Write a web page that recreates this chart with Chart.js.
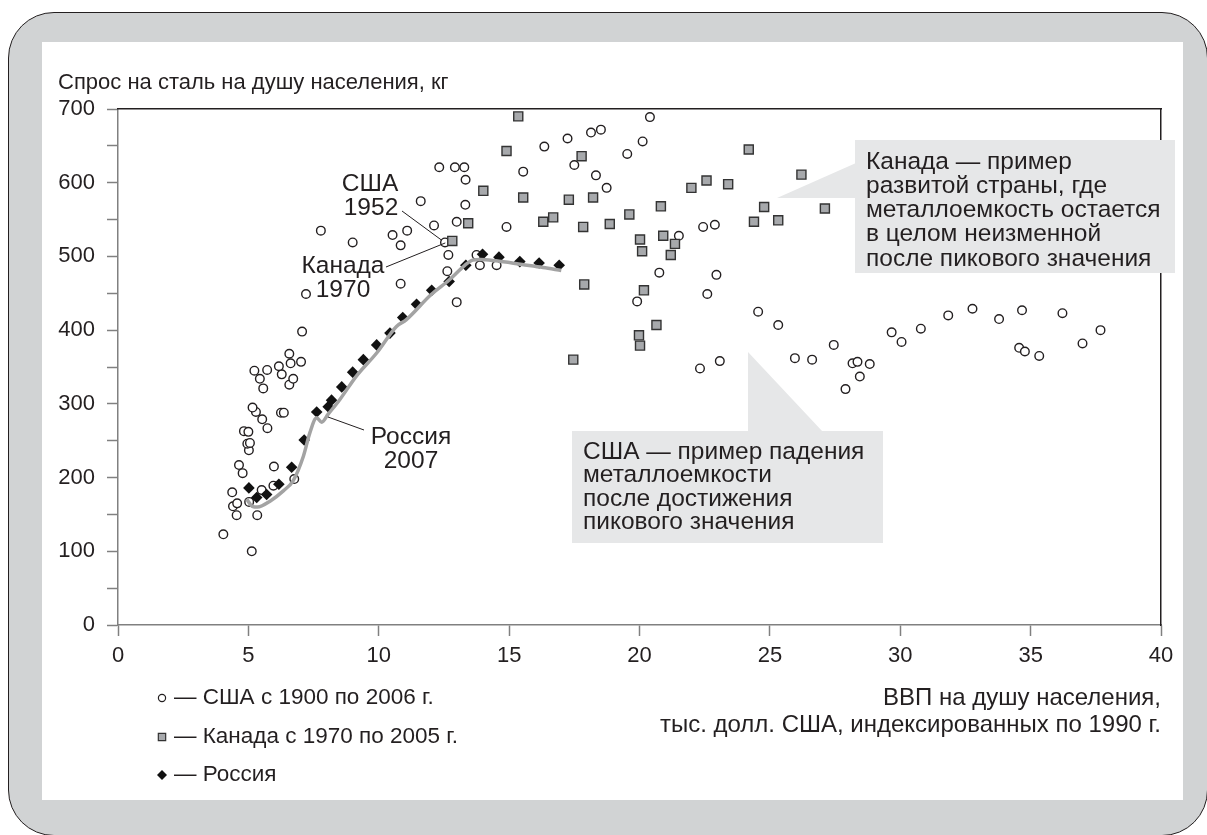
<!DOCTYPE html>
<html>
<head>
<meta charset="utf-8">
<script src="https://cdn.jsdelivr.net/npm/chart.js@4.4.1/dist/chart.umd.min.js"></script>
<style>
  html, body { margin: 0; padding: 0; background: #fff; overflow: hidden; }
  #frame { position: absolute; left: 8px; top: 12px; width: 1200px; height: 824px; background: #d1d3d4;
           border: 1.5px solid #231f20; border-radius: 46px; box-sizing: border-box; }
  #panel { position: absolute; left: 42px; top: 42px; width: 1141px; height: 758px; background: #fff; }
  #wrap { position: absolute; left: 0; top: 0; width: 1207px; height: 835px; }
</style>
</head>
<body>
<div id="frame"></div>
<div id="panel"></div>
<div id="wrap"><canvas id="steelChart"></canvas></div>
<script>
// США, 1900-2006: ВВП на душу (тыс. долл.) и спрос на сталь (кг)
const usX = [4.04, 5.13, 4.55, 5.34, 4.41, 4.57, 5.03, 4.38, 5.51, 5.96, 6.76, 4.78, 5.98, 4.64, 5.02, 4.96, 5.06, 4.83, 5.00, 5.73,
             5.53, 5.29, 5.16, 6.25, 6.36, 5.57, 6.57, 5.44, 6.72, 6.28, 5.23, 5.72, 6.17, 6.62, 7.02, 6.57, 7.06, 7.21, 10.84, 7.78,
             9.00, 10.53, 11.09, 10.84, 11.61, 12.12, 12.99, 12.54, 12.67, 12.63, 12.99, 12.32, 12.92, 13.28, 13.33, 13.32, 13.75, 13.88, 14.52, 14.90,
             15.54, 16.35, 17.24, 18.14, 18.52, 20.40, 20.12, 19.53, 17.50, 18.33, 18.74, 20.76, 19.91, 21.51, 22.44, 22.89, 22.95, 22.60, 24.55, 25.32,
             23.08, 22.32, 25.96, 26.62, 27.45, 28.17, 28.36, 28.83, 28.45, 27.90, 29.67, 30.05, 30.79, 31.84, 32.77, 33.79, 34.67, 34.56, 34.78, 35.33,
             36.22, 36.99, 37.68];
const usY = [123, 100, 149, 149, 161, 165, 167, 180, 183, 189, 198, 206, 215, 217, 237, 246, 247, 263, 262, 267,
             279, 289, 295, 288, 288, 321, 326, 334, 334, 340, 345, 346, 351, 355, 357, 368, 398, 449, 463, 535,
             519, 529, 535, 515, 575, 542, 547, 519, 502, 480, 438, 621, 621, 621, 604, 570, 502, 488, 488, 540,
             615, 649, 660, 668, 672, 689, 656, 639, 624, 610, 593, 478, 439, 528, 540, 543, 475, 449, 425, 407,
             358, 348, 362, 360, 380, 355, 357, 354, 337, 320, 397, 384, 402, 420, 429, 415, 427, 376, 371, 365,
             423, 382, 400];

// Канада, 1970-2005
const caX = [12.82, 13.43, 14.01, 14.90, 15.35, 15.54, 16.31, 16.69, 17.29, 17.78, 17.84, 18.22, 18.86, 17.88, 17.46, 19.61, 20.02, 20.10,
             20.82, 20.91, 21.36, 21.20, 20.17, 20.65, 19.98, 20.02, 21.99, 22.57, 23.40, 24.19, 24.39, 24.78, 25.32, 26.21, 27.11];
const caY = [521, 545, 589, 643, 690, 580, 547, 553, 577, 636, 540, 580, 544, 462, 360, 557, 523, 507,
             568, 528, 517, 502, 454, 407, 393, 379, 593, 603, 598, 645, 547, 567, 549, 611, 565];

// Россия
const ruX = [5.02, 5.32, 5.70, 6.17, 6.66, 7.14, 7.62, 8.06, 8.19, 8.58, 9.00, 9.41, 9.92, 10.43, 10.92, 11.45, 12.03, 12.70, 13.34, 13.98,
             14.61, 15.41, 16.15, 16.92];
const ruY = [186, 173, 177, 191, 214, 251, 289, 296, 305, 323, 343, 360, 380, 396, 417, 435, 454, 466, 488, 503,
             499, 493, 491, 488];

// серая линия траектории России
const trendX = [4.93, 5.15, 5.35, 5.83, 6.34, 6.72, 7.11, 7.36, 7.62, 7.81, 8.06, 8.51, 9.15, 9.92, 10.68, 11.05, 12.0, 12.7, 13.3, 13.6,
                13.9, 14.5, 15.5, 16.3, 17.0];
const trendY = [171, 161, 160, 168, 182, 196, 229, 261, 281, 275, 286, 306, 338, 369, 405, 414, 448, 468, 488, 495,
                496, 494, 489, 485, 481];

const xTicks = [0, 5, 10, 15, 20, 25, 30, 35, 40];
const yTicks = [0, 100, 200, 300, 400, 500, 600, 700];
const seriesNames = ["— США с 1900 по 2006 г.", "— Канада с 1970 по 2005 г.", "— Россия"];

const FONT = "'Liberation Sans', Arial, Helvetica, sans-serif";
const INK = "#231f20";

function zip(xs, ys) { return xs.map((x, i) => ({ x: x, y: ys[i] })); }

const decor = {
    id: "decor",
    beforeDatasetsDraw(chart) {
        const ctx = chart.ctx;
        ctx.save();
        ctx.fillStyle = "#e6e7e8";
        // выноска Канада
        ctx.fillRect(855, 140, 320, 133);
        ctx.beginPath();
        ctx.moveTo(777, 198); ctx.lineTo(856, 163); ctx.lineTo(856, 198); ctx.closePath();
        ctx.fill();
        // выноска США
        ctx.fillRect(572, 431, 311, 112);
        ctx.beginPath();
        ctx.moveTo(748, 352); ctx.lineTo(823, 432); ctx.lineTo(748, 432); ctx.closePath();
        ctx.fill();
        ctx.restore();
    },
    afterDatasetsDraw(chart) {
        const ctx = chart.ctx;
        const xs = chart.scales.x, ys = chart.scales.y;
        ctx.save();
        ctx.fillStyle = INK;
        ctx.textBaseline = "middle";

        // заголовок оси Y
        ctx.font = "22px " + FONT;
        ctx.textAlign = "left";
        ctx.fillText("Спрос на сталь на душу населения, кг", 58, 83);

        // тексты выносок
        ctx.font = "24.5px " + FONT;
        ["Канада — пример", "развитой страны, где", "металлоемкость остается", "в целом неизменной", "после пикового значения"]
            .forEach((t, i) => ctx.fillText(t, 866, 162 + i * 24.2));
        ["США — пример падения", "металлоемкости", "после достижения", "пикового значения"]
            .forEach((t, i) => ctx.fillText(t, 583, 452 + i * 23.5));

        // подписи точек
        ctx.textAlign = "center";
        ctx.fillText("США", 370, 184);
        ctx.fillText("1952", 371, 208);
        ctx.fillText("Канада", 343, 266);
        ctx.fillText("1970", 343, 290);
        ctx.fillText("Россия", 411, 437);
        ctx.fillText("2007", 411, 461);

        ctx.strokeStyle = INK;
        ctx.lineWidth = 1;
        ctx.beginPath();
        ctx.moveTo(402, 211); ctx.lineTo(xs.getPixelForValue(usX[47]) - 3, ys.getPixelForValue(usY[47]) - 2);
        ctx.moveTo(386, 267); ctx.lineTo(xs.getPixelForValue(caX[0]) - 7, ys.getPixelForValue(caY[0]) + 2);
        ctx.moveTo(364, 430); ctx.lineTo(328, 417);
        ctx.stroke();

        // легенда
        ctx.textAlign = "left";
        ctx.font = "22.5px " + FONT;
        const rows = [698, 737, 775];
        const styles = [
            { pointStyle: "circle", radius: 3.6, borderWidth: 1.2, fill: "#fff", stroke: INK },
            { pointStyle: "rect", radius: 5.2, borderWidth: 1.2, fill: "#a7a9ac", stroke: "#333" },
            { pointStyle: "rectRot", radius: 5, borderWidth: 0, fill: "#111", stroke: "#111" }
        ];
        rows.forEach((y, i) => {
            ctx.fillStyle = styles[i].fill;
            ctx.strokeStyle = styles[i].stroke;
            ctx.lineWidth = styles[i].borderWidth;
            Chart.helpers.drawPoint(ctx, styles[i], 162, y);
            ctx.fillStyle = INK;
            ctx.fillText(seriesNames[i], 174, y);
        });
        ctx.restore();
    }
};

const ctx = document.getElementById("steelChart").getContext("2d");

new Chart(ctx, {
    type: "scatter",
    data: {
        datasets: [
            {
                label: seriesNames[0],
                data: zip(usX, usY),
                pointStyle: "circle",
                pointRadius: 4.3,
                pointBackgroundColor: "#fff",
                pointBorderColor: INK,
                pointBorderWidth: 1.4,
                order: 3
            },
            {
                label: seriesNames[1],
                data: zip(caX, caY),
                pointStyle: "rect",
                pointRadius: 6.4,
                pointBackgroundColor: "#a7a9ac",
                pointBorderColor: "#333",
                pointBorderWidth: 1.4,
                order: 2
            },
            {
                label: seriesNames[2],
                data: zip(ruX, ruY),
                pointStyle: "rectRot",
                pointRadius: 5.8,
                pointBackgroundColor: "#111",
                pointBorderColor: "#111",
                pointBorderWidth: 0,
                order: 1
            },
            {
                type: "line",
                label: "trend",
                data: zip(trendX, trendY),
                borderColor: "#a3a3a3",
                borderWidth: 3.5,
                pointRadius: 0,
                cubicInterpolationMode: "monotone",
                fill: false,
                order: 0
            }
        ]
    },
    options: {
        responsive: true,
        maintainAspectRatio: false,
        animation: false,
        events: [],
        layout: { padding: { left: 0, right: 46, top: 109, bottom: 96.5 } },
        plugins: {
            legend: { display: false },
            tooltip: { enabled: false }
        },
        scales: {
            x: {
                type: "linear",
                min: 0,
                max: 40,
                afterBuildTicks: (s) => { s.ticks = xTicks.map(v => ({ value: v })); },
                afterFit: (s) => { s.height = 113.5; },
                ticks: { color: INK, font: { family: FONT, size: 22 }, padding: 7, maxRotation: 0, autoSkip: false },
                grid: { drawOnChartArea: false, drawTicks: true, tickLength: 11, tickColor: "#808080", tickWidth: 1.5 },
                border: { color: "#808080", width: 1.5 },
                title: {
                    display: true,
                    text: ["ВВП на душу населения,", "тыс. долл. США, индексированных по 1990 г."],
                    align: "end",
                    color: INK,
                    font: { family: FONT, size: 24, lineHeight: 1.125 },
                    padding: { top: 0, bottom: 0 }
                }
            },
            y: {
                type: "linear",
                min: 0,
                max: 700,
                afterFit: (s) => { s.width = 118; },
                ticks: {
                    stepSize: 50,
                    color: INK,
                    font: { family: FONT, size: 22 },
                    padding: 12,
                    callback: (v) => yTicks.includes(v) ? String(v) : ""
                },
                grid: { drawOnChartArea: false, drawTicks: true, tickLength: 11, tickColor: "#808080", tickWidth: 1.5 },
                border: { color: "#808080", width: 1.5 }
            },
            x2: {
                type: "linear",
                position: "top",
                min: 0,
                max: 40,
                afterFit: (s) => { s.height = 0; },
                ticks: { display: false },
                grid: { display: false },
                border: { color: INK, width: 1.5 }
            },
            y2: {
                type: "linear",
                position: "right",
                min: 0,
                max: 700,
                afterFit: (s) => { s.width = 0; },
                ticks: { display: false },
                grid: { display: false },
                border: { color: INK, width: 1.5 }
            }
        }
    },
    plugins: [decor]
});
</script>
</body>
</html>
